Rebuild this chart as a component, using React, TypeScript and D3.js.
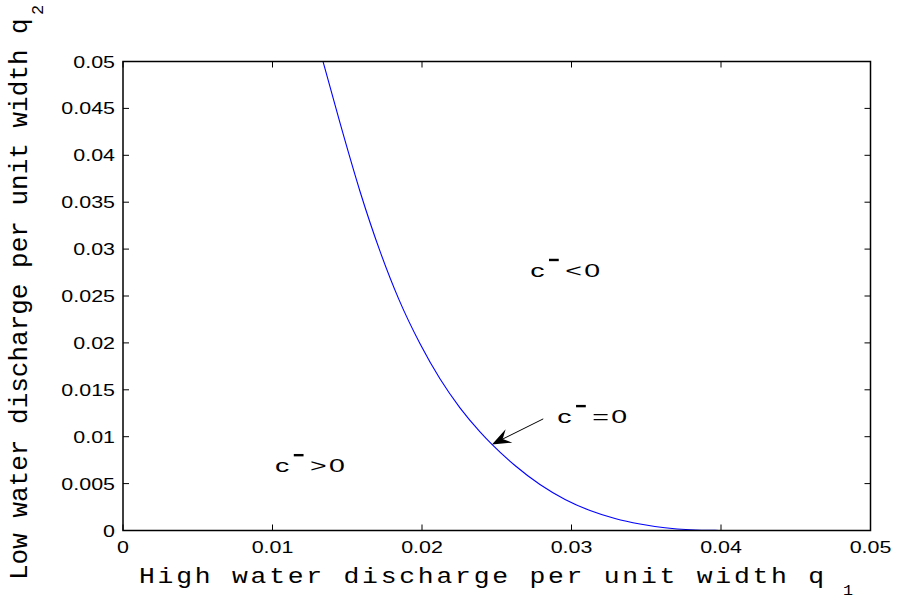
import React from "react";
import * as d3 from "d3";

const q1Values = [0.01338, 0.01452, 0.01585, 0.01719, 0.01846, 0.01987, 0.0212, 0.02254, 0.02388, 0.02468, 0.02622, 0.02789, 0.02957, 0.03124, 0.03291, 0.03458, 0.03625, 0.03793, 0.0396, 0.04127, 0.05];
const q2Values = [0.05, 0.04342, 0.03617, 0.02978, 0.02461, 0.0199, 0.01617, 0.01308, 0.01052, 0.00918, 0.00693, 0.0049, 0.00331, 0.00213, 0.00128, 0.00069, 0.00029, 0.000075, 0.00001, 0, 0];

const xTicks = [0, 0.01, 0.02, 0.03, 0.04, 0.05];
const xTickLabels = ["0", "0.01", "0.02", "0.03", "0.04", "0.05"];
const yTicks = [0, 0.005, 0.01, 0.015, 0.02, 0.025, 0.03, 0.035, 0.04, 0.045, 0.05];
const yTickLabels = ["0", "0.005", "0.01", "0.015", "0.02", "0.025", "0.03", "0.035", "0.04", "0.045", "0.05"];

const annotationOps = ["<", "=", ">"];
const annotationQ1 = [0.02724, 0.02905, 0.01017];
const annotationQ2 = [0.02705, 0.01147, 0.00624];

const arrowFrom = [0.02811, 0.0119];
const arrowTo = [0.02468, 0.00918];

const xTitle = "High water discharge per unit width q";
const yTitle = "Low water discharge per unit width q";

export default function App() {
  const W = 898, H = 599;
  const left = 123, right = 870.5, top = 61.5, bottom = 530.5;
  const x = d3.scaleLinear().domain([0, 0.05]).range([left, right]);
  const y = d3.scaleLinear().domain([0, 0.05]).range([bottom, top]);
  const pts: [number, number][] = q1Values.map((v, i) => [v, q2Values[i]]);
  const line = d3.line<[number, number]>().x(d => x(d[0])).y(d => y(d[1])).curve(d3.curveMonotoneX);
  const tl = 6;
  const tickFont = "'Liberation Sans', Arial, Helvetica, sans-serif";
  const monoFont = "'Liberation Mono', 'Courier New', monospace";

  // arrow geometry
  const ax0 = x(arrowFrom[0]), ay0 = y(arrowFrom[1]);
  const ax1 = x(arrowTo[0]), ay1 = y(arrowTo[1]);
  const dx = ax0 - ax1, dy = ay0 - ay1;
  const len = Math.hypot(dx, dy);
  const ux = dx / len, uy = dy / len;
  const px = -uy, py = ux;
  const hl = 19, hw = 7.5, notch = 12;
  const head = [
    [ax1, ay1],
    [ax1 + ux * hl + px * hw, ay1 + uy * hl + py * hw],
    [ax1 + ux * notch, ay1 + uy * notch],
    [ax1 + ux * hl - px * hw, ay1 + uy * hl - py * hw],
  ].map(p => p.join(",")).join(" ");

  return (
    <svg width={W} height={H} style={{ position: "fixed", left: 0, top: 0, background: "#fff" }}>
      <rect x={0} y={0} width={W} height={H} fill="#fff" />
      {/* curve */}
      <path d={line(pts) || ""} fill="none" stroke="#0000ff" strokeWidth={1.1} />
      {/* box */}
      <rect x={left} y={top} width={right - left} height={bottom - top} fill="none" stroke="#000" strokeWidth={1.5} />
      {/* x ticks */}
      {xTicks.map((t, i) => (
        <g key={"xt" + i}>
          <line x1={x(t)} x2={x(t)} y1={bottom} y2={bottom - tl} stroke="#000" strokeWidth={1} />
          <line x1={x(t)} x2={x(t)} y1={top} y2={top + tl} stroke="#000" strokeWidth={1} />
          <text transform={`translate(${x(t)},${bottom + 22}) scale(1.3,1)`} textAnchor="middle" fontFamily={tickFont} fontSize={16.5} fill="#000">{xTickLabels[i]}</text>
        </g>
      ))}
      {/* y ticks */}
      {yTicks.map((t, i) => (
        <g key={"yt" + i}>
          <line x1={left} x2={left + tl} y1={y(t)} y2={y(t)} stroke="#000" strokeWidth={1} />
          <line x1={right} x2={right - tl} y1={y(t)} y2={y(t)} stroke="#000" strokeWidth={1} />
          <text transform={`translate(${left - 8},${y(t) + 6}) scale(1.3,1)`} textAnchor="end" fontFamily={tickFont} fontSize={16.5} fill="#000">{yTickLabels[i]}</text>
        </g>
      ))}
      {/* annotations */}
      {annotationOps.map((op, i) => (
        <g key={"an" + i} transform={`translate(${x(annotationQ1[i])},${y(annotationQ2[i])}) scale(1.5,1)`} fontFamily={tickFont} fill="#000">
          <text x={0} y={0} fontSize={19}>c</text>
          <rect x={12.5} y={-18} width={6.5} height={2.4} fill="#000" />
          <text x={23.3} y={0} fontSize={19}>{op}</text>
          <text x={36} y={0} fontSize={19}>0</text>
        </g>
      ))}
      {/* arrow */}
      <line x1={ax0} y1={ay0} x2={ax1 + ux * notch} y2={ay1 + uy * notch} stroke="#000" strokeWidth={1} />
      <polygon points={head} fill="#000" />
      {/* x title */}
      <text transform={`translate(139,583) scale(1.2,1)`} fontFamily={monoFont} fontSize={22} letterSpacing={2.3} fill="#000">{xTitle}</text>
      <text transform={`translate(843,595) scale(1.2,1)`} fontFamily={monoFont} fontSize={14} fill="#000">1</text>
      {/* y title */}
      <text transform={`translate(27,580) rotate(-90)`} fontFamily={monoFont} fontSize={26} fill="#000">{yTitle}</text>
      <text transform={`translate(43,15) rotate(-90)`} fontFamily={monoFont} fontSize={17} fill="#000">2</text>
    </svg>
  );
}
